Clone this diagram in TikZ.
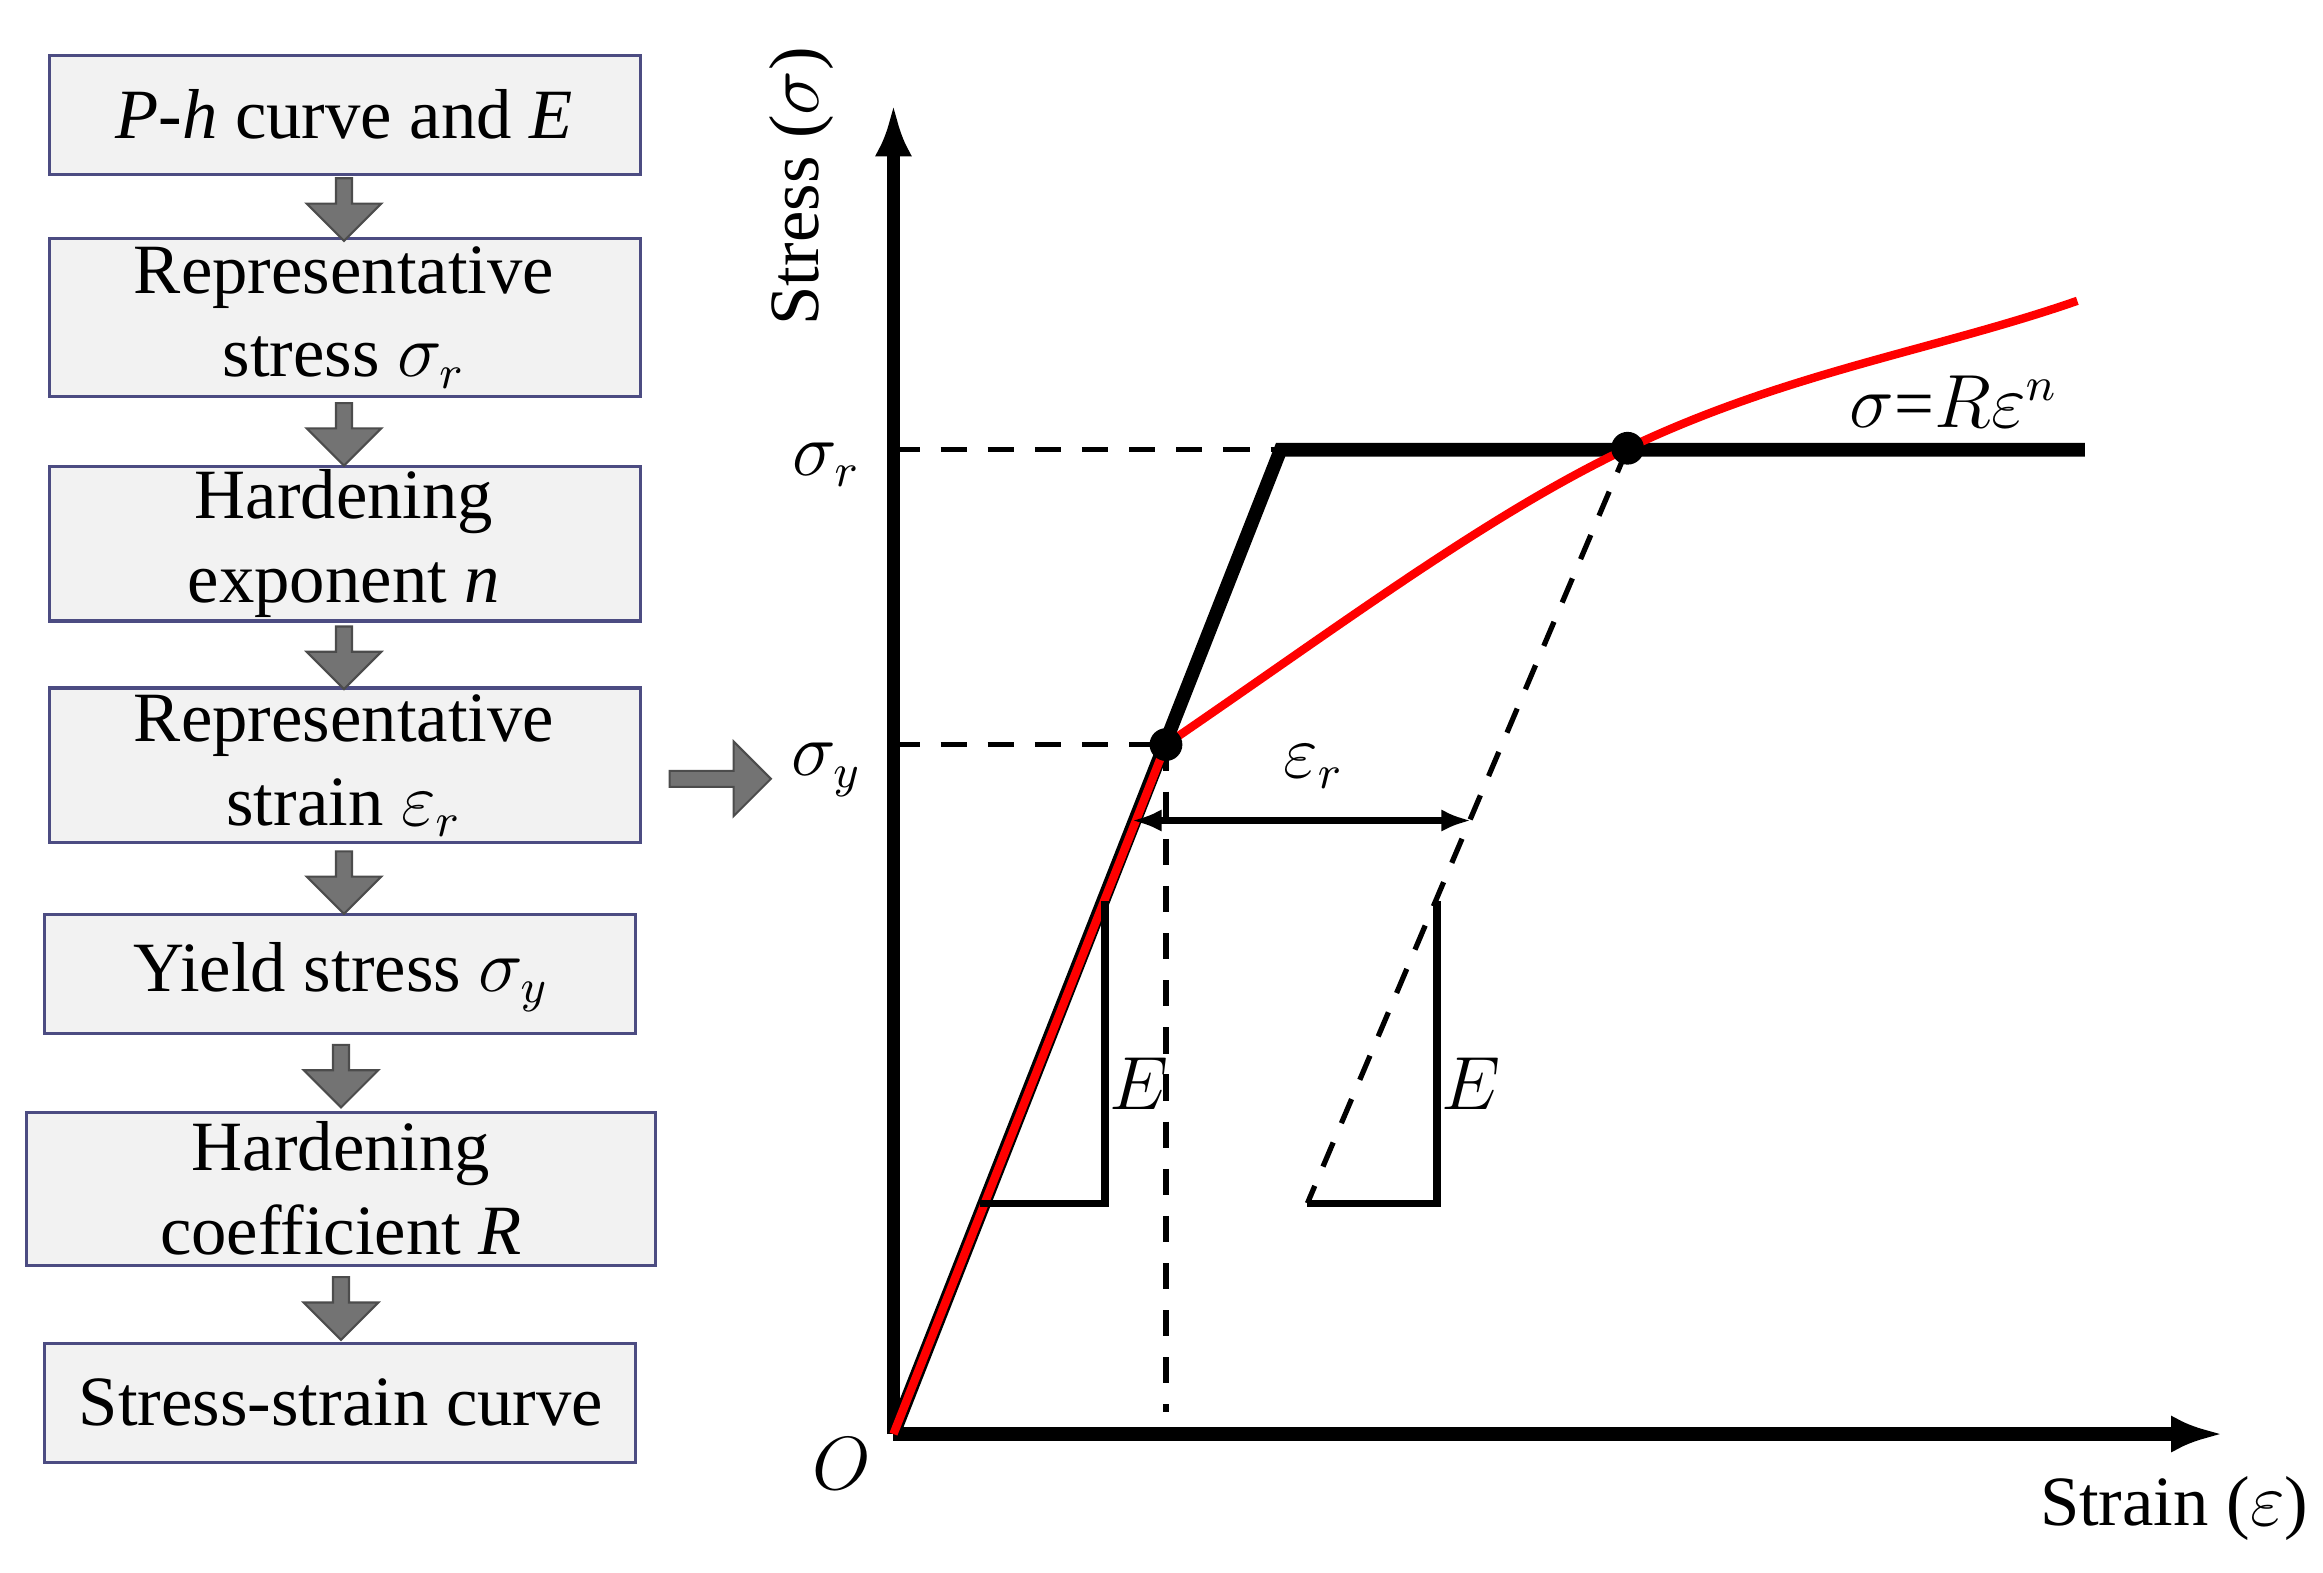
\documentclass[tikz,border=0pt]{standalone}
\usepackage{fontspec}
\setmainfont{Liberation Serif}
\usetikzlibrary{shapes.arrows,arrows.meta}
\begin{document}
\begin{tikzpicture}[x=0.01cm,y=-0.01cm,
  fbox/.style={draw=blue!30!black!70,fill=black!5,line width=0.6pt,inner sep=0pt},
  ftext/.style={align=center,font=\fontsize{13.5}{16}\selectfont},
  darr/.style={single arrow,draw=black!70,fill=black!55,minimum height=0.42cm,minimum width=0.5cm,single arrow head extend=0.09cm,inner sep=0.5pt,shape border rotate=270},
  lab/.style={font=\fontsize{13.5}{16}\selectfont},
  ax/.style={line width=2.6pt},
  dsh/.style={dashed,line width=1pt,dash pattern=on 5pt off 4pt}]
\useasboundingbox (0,0) rectangle (1560,1056);
% flow boxes
\draw[fbox] (33,37) rectangle (430,117);
\node[ftext] (b1) at (231,77) {\textit{P-h} curve and \textit{E}};
\draw[fbox] (33,160) rectangle (430,266);
\node[ftext] (b2) at (231,213) {Representative\\stress $\sigma_r$};
\draw[fbox] (33,313) rectangle (430,417);
\node[ftext] (b3) at (231,365) {Hardening\\exponent \textit{n}};
\draw[fbox] (33,462) rectangle (430,566);
\node[ftext] (b4) at (231,514) {Representative\\strain $\varepsilon_r$};
\draw[fbox] (30,614) rectangle (427,694);
\node[ftext] (b5) at (229,656) {Yield stress $\sigma_y$};
\draw[fbox] (18,747) rectangle (440,850);
\node[ftext] (b6) at (229,798) {Hardening\\coefficient \textit{R}};
\draw[fbox] (30,902) rectangle (427,982);
\node[ftext] (b7) at (229,942) {Stress-strain curve};
\node[darr] (a1) at (231,138) {};
\node[darr] (a2) at (231,289) {};
\node[darr] (a3) at (231,439) {};
\node[darr] (a4) at (231,590) {};
\node[darr] (a5) at (229,720) {};
\node[darr] (a6) at (229,876) {};
\node[darr,shape border rotate=0,minimum height=0.68cm] (ar) at (481,523) {};
% axes
\coordinate (O) at (600,963);
\coordinate (Y) at (600,70);
\coordinate (X) at (1493,963);
\draw[ax,-{Latex[length=0.35cm,width=0.25cm]}] (O) -- (Y);
\draw[ax,-{Latex[length=0.35cm,width=0.25cm]}] (O) -- (X);
\node[lab,rotate=90] (st) at (538,125) {Stress ($\sigma$)};
\node[lab] (sn) at (1460,1013) {Strain ($\varepsilon$)};
\node[lab] (o) at (565,983) {$O$};
% points
\coordinate (K) at (860,302);
\coordinate (P1) at (783,500);
\coordinate (P2) at (1093,301);
\coordinate (Rt) at (1400,302);
% dashed guides
\draw[dsh] (600,302) -- (K);
\draw[dsh] (600,500) -- (P1);
\draw[dsh] (P1) -- (783,948);
\draw[dsh] (P2) -- (878,808);
\node[lab] (sr) at (555,312) {$\sigma_r$};
\node[lab] (sy) at (555,517) {$\sigma_y$};
% bilinear black
\draw[line width=2.6pt,line join=miter] (O) -- (K) -- (Rt);
% red curve
\draw[red,line width=1.6pt] (O) -- (P1) .. controls (900,420) and (1000,345) .. (P2) .. controls (1200,250) and (1300,235) .. (1395,202);
\fill (P1) circle (0.11cm);
\fill (P2) circle (0.11cm);
% triangles
\draw[line width=1.4pt] (658,808) -- (742,808) -- (742,605);
\draw[line width=1.4pt] (878,808) -- (965,808) -- (965,605);
\node[lab] (e1) at (765,728) {$E$};
\node[lab] (e2) at (988,728) {$E$};
% eps_r arrow
\coordinate (d1) at (760,551);
\coordinate (d2) at (988,551);
\draw[line width=1.2pt,{Latex[length=0.2cm]}-{Latex[length=0.2cm]}] (d1) -- (d2);
\node[lab] (er) at (882,515) {$\varepsilon_r$};
\node[lab] (law) at (1312,270) {$\sigma$=$R\varepsilon^n$};
\end{tikzpicture}
\end{document}
